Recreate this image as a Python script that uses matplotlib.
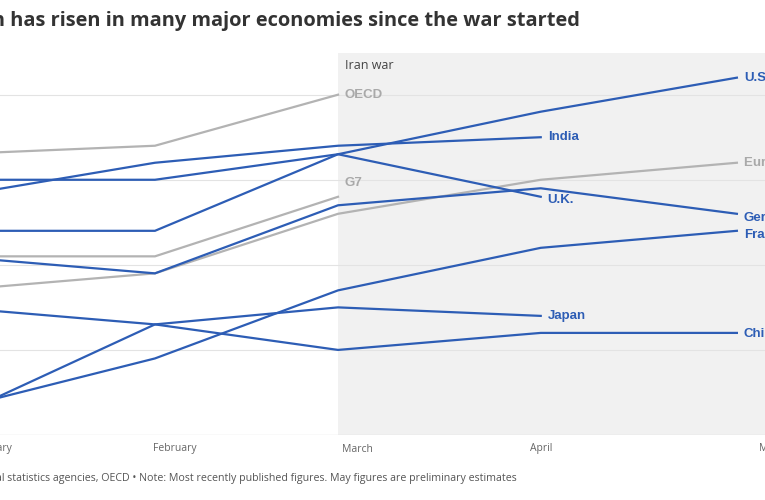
import matplotlib
matplotlib.use("Agg")
import matplotlib.pyplot as plt
import numpy as np

# Month starts, as days after 1 January
months = ["January", "February", "March", "April", "May"]
month_day = [0, 31, 59, 90, 120]
war_start = 59  # 1 March

# Annual inflation (%); nan = not yet published
us = [2.4, 2.4, 3.3, 3.8, 4.2]
india = [2.8, 3.2, 3.4, 3.5, np.nan]
uk = [3.0, 3.0, 3.3, 2.8, np.nan]
oecd = [3.3, 3.4, 4.0, np.nan, np.nan]
g7 = [2.1, 2.1, 2.8, np.nan, np.nan]
euro = [1.7, 1.9, 2.6, 3.0, 3.2]
germany = [2.1, 1.9, 2.7, 2.9, 2.6]
france = [0.3, 0.9, 1.7, 2.2, 2.4]
japan = [0.2, 1.3, 1.5, 1.4, np.nan]
china = [1.5, 1.3, 1.0, 1.2, 1.2]

BLUE = "#2d5db5"
GREY = "#b3b3b3"
GREY_TXT = "#a9a9a9"

# name, values, colour, label nudge (px, +up)
series = [
    ("OECD", oecd, GREY, 0),
    ("G7", g7, GREY, 14),
    ("Euro area", euro, GREY, 0),
    ("U.S.", us, BLUE, 0),
    ("India", india, BLUE, 0),
    ("U.K.", uk, BLUE, -3),
    ("Germany", germany, BLUE, -4),
    ("France", france, BLUE, -4),
    ("Japan", japan, BLUE, 0),
    ("China", china, BLUE, -1),
]

plt.rcParams["font.family"] = ["Open Sans", "DejaVu Sans"]

fig = plt.figure(figsize=(7.65, 5), dpi=100)
# the picture is a crop: the plot runs off both sides of the figure
ax = fig.add_axes([0, 65 / 500, 1, 382 / 500])
ax.set_xlim(7.3, 124.3)
ax.set_ylim(0, 4.49)

ax.axvspan(war_start, 130, color="#f1f1f1", zorder=0, lw=0)
for g in [1, 2, 3, 4]:
    ax.axhline(g, color="#e3e3e3", lw=0.8, zorder=0.5)
ax.axhline(0, color="#d6d6d6", lw=0.9, zorder=0.5)

x = np.array(month_day, dtype=float)
for name, vals, col, nudge in series:
    v = np.array(vals, dtype=float)
    ax.plot(x, v, color=col, lw=1.6, zorder=3 if col == BLUE else 2,
            solid_joinstyle="miter")
    last = np.where(~np.isnan(v))[0][-1]
    ax.annotate(name, xy=(x[last], v[last]), xytext=(5, nudge * 0.72),
                textcoords="offset points", ha="left", va="center",
                fontsize=9.5, fontweight="bold",
                color=BLUE if col == BLUE else GREY_TXT,
                family=["Liberation Sans", "DejaVu Sans"],
                annotation_clip=False)

ax.annotate("Iran war", xy=(war_start, 1), xycoords=("data", "axes fraction"),
            xytext=(5, -4), textcoords="offset points", ha="left", va="top",
            fontsize=9, color="#444444")

# month labels sit a little off the month starts in the original, and the
# first and last run off the edges, so they are plain texts, not ticks
label_day = [6.4, 34, 62, 90, 125]
for d, m in zip(label_day, months):
    ax.text(d, -14 / 382, m, transform=ax.get_xaxis_transform(),
            ha="center", va="center", fontsize=7.5, color="#666666",
            clip_on=False)
ax.set_xticks([])
ax.set_yticks([])
for s in ax.spines.values():
    s.set_visible(False)

fig.text(580 / 765, 1 - 21 / 500,
         "Inflation has risen in many major economies since the war started",
         ha="right", va="center", fontsize=14.4, fontweight="bold", color="#333333")
fig.text(517 / 765, 1 - 479 / 500,
         "Source: National statistics agencies, OECD \u2022 Note: Most recently published "
         "figures. May figures are preliminary estimates",
         ha="right", va="center", fontsize=7.65, color="#555555")

fig.savefig("out.png", dpi=100)
